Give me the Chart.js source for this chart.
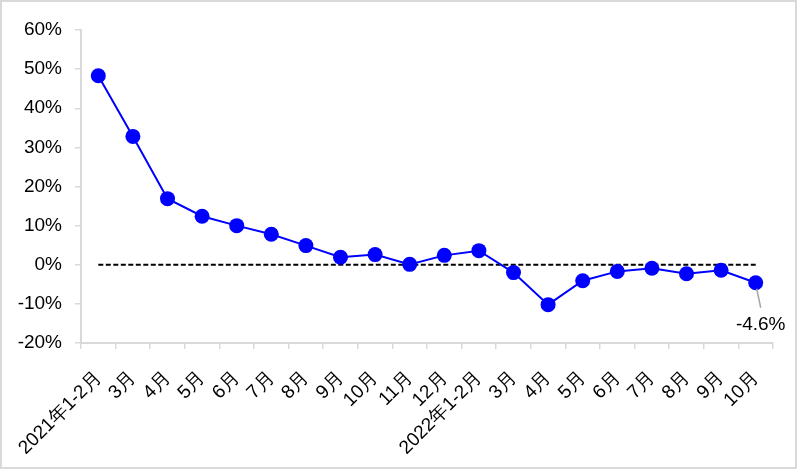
<!DOCTYPE html>
<html>
<head>
<meta charset="utf-8">
<script src="https://cdn.jsdelivr.net/npm/chart.js@4.4.0/dist/chart.umd.min.js"></script>
<style>
  html, body { margin: 0; padding: 0; background: #fff; }
  #wrap { width: 797px; height: 469px; position: relative; }
</style>
</head>
<body>
<div id="wrap"><canvas id="lineCanvas" width="797" height="469"></canvas></div>
<script>
// 月度同比增速
var months = ["2021年1-2月", "3月", "4月", "5月", "6月", "7月", "8月", "9月", "10月", "11月", "12月",
  "2022年1-2月", "3月", "4月", "5月", "6月", "7月", "8月", "9月", "10月"];
var growth = [48.3, 32.8, 16.9, 12.4, 10.0, 7.8, 4.9, 1.9, 2.6, 0.1, 2.4, 3.6, -2.0, -10.2, -4.1, -1.7, -0.9, -2.3, -1.4, -4.6];
var baseline = [0, 0, 0, 0, 0, 0, 0, 0, 0, 0, 0, 0, 0, 0, 0, 0, 0, 0, 0, 0];
var yMin = -20, yMax = 60, yStep = 10;
var lastLabel = "-4.6%";

var fontName = "'Liberation Sans', Arial, sans-serif";

// 外枠
var framePlugin = {
  id: "frame",
  beforeDraw: function(chart) {
    var ctx = chart.ctx;
    ctx.save();
    ctx.fillStyle = "#fff";
    ctx.fillRect(0, 0, chart.width, chart.height);
    ctx.strokeStyle = "#d9d9d9";
    ctx.lineWidth = 2;
    ctx.strokeRect(1, 1, chart.width - 2, chart.height - 2);
    ctx.restore();
  }
};

// 最後の点のラベル
var lastLabelPlugin = {
  id: "lastLabel",
  afterDatasetsDraw: function(chart) {
    var meta = chart.getDatasetMeta(1);
    var pt = meta.data[meta.data.length - 1];
    var ctx = chart.ctx;
    ctx.save();
    ctx.strokeStyle = "#a6a6a6";
    ctx.lineWidth = 1.5;
    ctx.beginPath();
    ctx.moveTo(pt.x + 1, pt.y + 6);
    ctx.lineTo(pt.x + 5, pt.y + 25);
    ctx.stroke();
    ctx.fillStyle = "#000";
    ctx.font = "19px " + fontName;
    ctx.textAlign = "center";
    ctx.textBaseline = "middle";
    ctx.fillText(lastLabel, pt.x + 5, pt.y + 42);
    ctx.restore();
  }
};

var context = document.getElementById("lineCanvas").getContext("2d");
var chart = new Chart(context, {
  type: "line",
  data: {
    labels: months,
    datasets: [{
        data: baseline,
        borderColor: "#000",
        borderWidth: 2,
        borderDash: [5, 2.5],
        pointRadius: 0,
        fill: false,
        order: 2
      }, {
        data: growth,
        borderColor: "#0000ff",
        backgroundColor: "#0000ff",
        borderWidth: 2,
        pointRadius: 7.5,
        pointBorderWidth: 0,
        pointBackgroundColor: "#0000ff",
        fill: false,
        tension: 0,
        order: 1
      }]
  },
  options: {
    responsive: false,
    animation: false,
    devicePixelRatio: 1,
    layout: { padding: { top: 30, right: 24, left: 0, bottom: 0 } },
    plugins: { legend: { display: false }, tooltip: { enabled: false } },
    scales: {
      x: {
        offset: true,
        grid: { offset: true, drawOnChartArea: false, drawTicks: true, tickLength: 6, color: "#d9d9d9", lineWidth: 1.5 },
        border: { color: "#d9d9d9", width: 2 },
        ticks: {
          autoSkip: false, minRotation: 45, maxRotation: 45, padding: 18,
          color: "#000", font: { family: fontName, size: 19 }
        },
        afterFit: function(scale) { scale.height = 126; }
      },
      y: {
        min: yMin, max: yMax,
        grid: { drawOnChartArea: false, drawTicks: true, tickLength: 6, color: "#d9d9d9", lineWidth: 1.5 },
        border: { color: "#d9d9d9", width: 2 },
        ticks: {
          stepSize: yStep, padding: 13,
          color: "#000", font: { family: fontName, size: 19 },
          callback: function(v) { return v + "%"; }
        },
        afterFit: function(scale) { scale.width = 81; }
      }
    }
  },
  plugins: [framePlugin, lastLabelPlugin]
});
</script>
</body>
</html>
